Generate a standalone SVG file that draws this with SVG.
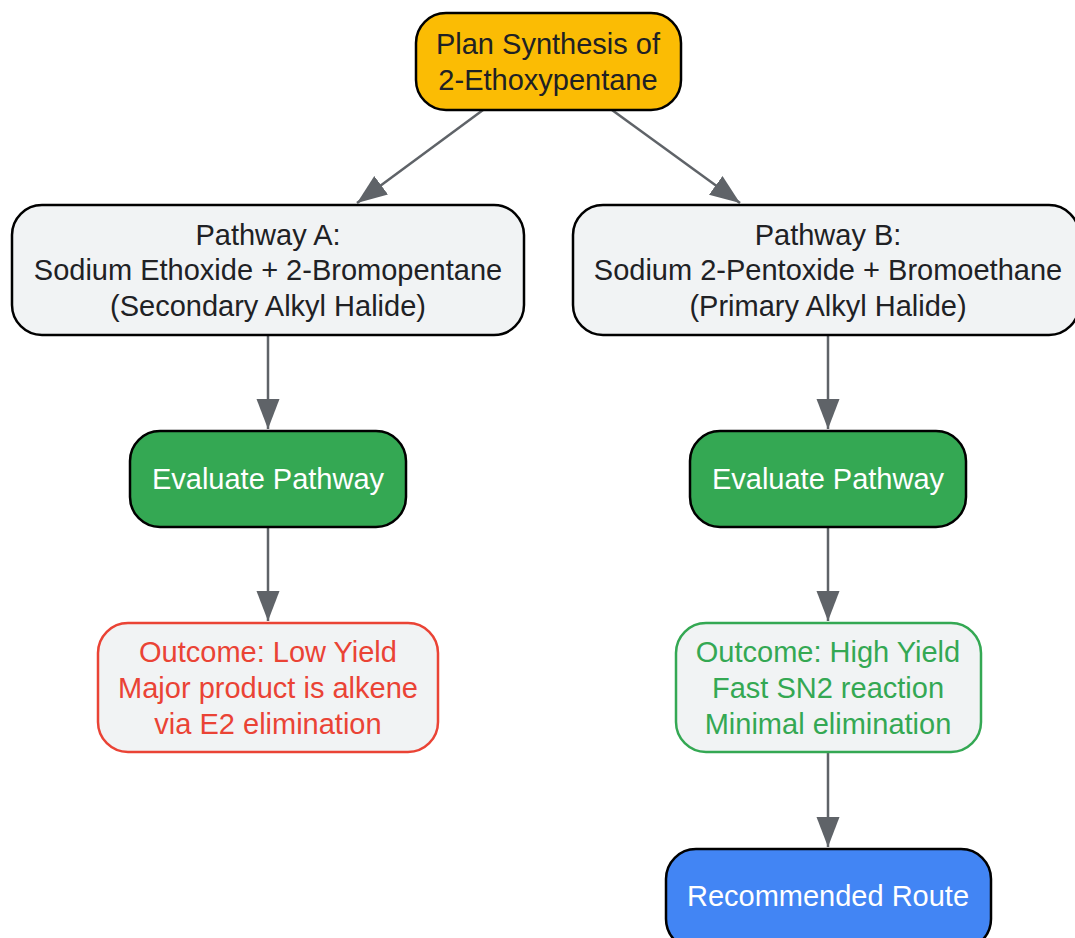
<svg xmlns="http://www.w3.org/2000/svg" width="1075" height="938" viewBox="0 0 1075 938">
<style>
text{font-family:"Liberation Sans",Arial,sans-serif;font-size:29px;text-anchor:middle;dominant-baseline:central}
.n{stroke:#000;stroke-width:2.5}
.dark{fill:#202124}
.white{fill:#fff}
.c{stroke:#5F6368;stroke-width:2.5;fill:none;marker-end:url(#ah)}
</style>
<defs>
<marker id="ah" markerUnits="userSpaceOnUse" markerWidth="30" markerHeight="24" refX="30" refY="11.5" orient="auto">
<path d="M0,0 L30,11.5 L0,23 Z" fill="#5F6368"/>
</marker>
</defs>
<rect width="1075" height="938" fill="#fff"/>
<g id="connectors">
<path class="c" d="M483,110 L357,203"/>
<path class="c" d="M612,110 L740,203"/>
<path class="c" d="M268,335 L268,429"/>
<path class="c" d="M828,335 L828,429"/>
<path class="c" d="M268,527 L268,621"/>
<path class="c" d="M828,527 L828,621"/>
<path class="c" d="M828,752 L828,847"/>
</g>
<g id="start">
<rect class="n" x="416" y="13" width="265" height="97" rx="30" fill="#FBBC04"/>
<text class="dark" x="548" y="44">Plan Synthesis of</text>
<text class="dark" x="548" y="80">2-Ethoxypentane</text>
</g>
<g id="pathA">
<rect class="n" x="12" y="205" width="512" height="130" rx="30" fill="#F1F3F4"/>
<text class="dark" x="268" y="235">Pathway A:</text>
<text class="dark" x="268" y="270">Sodium Ethoxide + 2-Bromopentane</text>
<text class="dark" x="268" y="306">(Secondary Alkyl Halide)</text>
</g>
<g id="pathB">
<rect class="n" x="573" y="205" width="506" height="130" rx="30" fill="#F1F3F4"/>
<text class="dark" x="828" y="235">Pathway B:</text>
<text class="dark" x="828" y="270">Sodium 2-Pentoxide + Bromoethane</text>
<text class="dark" x="828" y="306">(Primary Alkyl Halide)</text>
</g>
<g id="evalA">
<rect class="n" x="130" y="431" width="276" height="96" rx="30" fill="#34A853"/>
<text class="white" x="268" y="479">Evaluate Pathway</text>
</g>
<g id="evalB">
<rect class="n" x="690" y="431" width="276" height="96" rx="30" fill="#34A853"/>
<text class="white" x="828" y="479">Evaluate Pathway</text>
</g>
<g id="outA">
<rect x="98" y="623" width="340" height="129" rx="30" fill="#F1F3F4" stroke="#EA4335" stroke-width="2.5"/>
<text x="268" y="652" fill="#EA4335">Outcome: Low Yield</text>
<text x="268" y="688" fill="#EA4335">Major product is alkene</text>
<text x="268" y="724" fill="#EA4335">via E2 elimination</text>
</g>
<g id="outB">
<rect x="676" y="623" width="305" height="129" rx="30" fill="#F1F3F4" stroke="#34A853" stroke-width="2.5"/>
<text x="828" y="652" fill="#34A853">Outcome: High Yield</text>
<text x="828" y="688" fill="#34A853">Fast SN2 reaction</text>
<text x="828" y="724" fill="#34A853">Minimal elimination</text>
</g>
<g id="route">
<rect class="n" x="666" y="849" width="325" height="100" rx="30" fill="#4285F4"/>
<text class="white" x="828" y="896">Recommended Route</text>
</g>
</svg>
